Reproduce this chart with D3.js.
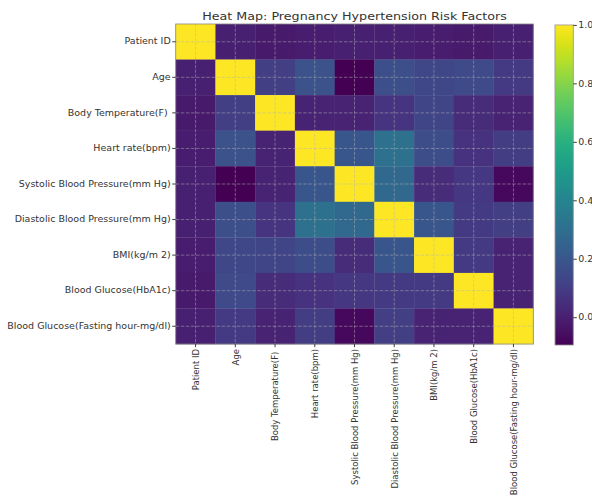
<!DOCTYPE html>
<html>
<head>
<meta charset="utf-8">
<script src="https://cdn.jsdelivr.net/npm/d3@7"></script>
<style>
  html, body { margin: 0; padding: 0; background: #fff; }
  svg { display: block; }
  text { font-family: "DejaVu Sans", sans-serif; fill: #333; white-space: pre; }
</style>
</head>
<body>
<svg id="chart"></svg>
<script>
// Correlation matrix of pregnancy hypertension risk factors
const features = [
  "Patient ID",
  "Age",
  "Body Temperature(F) ",
  "Heart rate(bpm)",
  "Systolic Blood Pressure(mm Hg)",
  "Diastolic Blood Pressure(mm Hg)",
  "BMI(kg/m 2)",
  "Blood Glucose(HbA1c)",
  "Blood Glucose(Fasting hour-mg/dl)"
];

const rowPatientId   = [ 1.00,  0.00, -0.02, -0.01,  0.00,  0.00, -0.01, -0.02,  0.00];
const rowAge         = [ 0.00,  1.00,  0.11,  0.18, -0.095, 0.17,  0.14,  0.15,  0.09];
const rowBodyTemp    = [-0.02,  0.11,  1.00,  0.01,  0.01,  0.07,  0.13,  0.04,  0.01];
const rowHeartRate   = [-0.01,  0.18,  0.01,  1.00,  0.20,  0.31,  0.16,  0.06,  0.10];
const rowSystolic    = [ 0.00, -0.095, 0.01,  0.20,  1.00,  0.27,  0.04,  0.08, -0.07];
const rowDiastolic   = [ 0.00,  0.17,  0.07,  0.31,  0.27,  1.00,  0.20,  0.09,  0.11];
const rowBMI         = [-0.01,  0.14,  0.13,  0.16,  0.04,  0.20,  1.00,  0.09,  0.01];
const rowHbA1c       = [-0.02,  0.15,  0.04,  0.06,  0.08,  0.09,  0.09,  1.00,  0.01];
const rowFasting     = [ 0.00,  0.09,  0.01,  0.10, -0.07,  0.11,  0.01,  0.01,  1.00];

const matrix = [rowPatientId, rowAge, rowBodyTemp, rowHeartRate, rowSystolic,
                rowDiastolic, rowBMI, rowHbA1c, rowFasting];

const colorbarTicks = [0.0, 0.2, 0.4, 0.6, 0.8, 1.0];

const titleText = "Heat Map: Pregnancy Hypertension Risk Factors";

// The figure is laid out with square cells and then squeezed vertically.
const W = 592, H = 501, squeeze = 0.895;
const VH = H / squeeze;

const svg = d3.select("#chart")
  .attr("width", W).attr("height", H)
  .attr("viewBox", `0 0 ${W} ${VH}`)
  .attr("preserveAspectRatio", "none");

const plotLeft = 175.7, plotRight = 533.3, plotTop = 26.8;
const plotSize = plotRight - plotLeft;
const plotBottom = plotTop + plotSize;

const x = d3.scaleBand().domain(d3.range(features.length)).range([plotLeft, plotRight]);
const y = d3.scaleBand().domain(d3.range(features.length)).range([plotTop, plotBottom]);

const vmin = d3.min(matrix.flat()), vmax = d3.max(matrix.flat());
const color = d3.scaleSequential(d3.interpolateViridis).domain([vmin, vmax]);

const cells = [];
matrix.forEach((row, i) => row.forEach((v, j) => cells.push({ i, j, v })));

svg.append("g").selectAll("rect")
  .data(cells)
  .join("rect")
  .attr("x", d => x(d.j))
  .attr("y", d => y(d.i))
  .attr("width", x.bandwidth() + 0.3)
  .attr("height", y.bandwidth() + 0.3)
  .attr("fill", d => color(d.v));

// dashed grid at tick positions
const centers = d3.range(features.length);
const grid = svg.append("g")
  .attr("stroke", "#b4b4b4").attr("stroke-opacity", 0.65)
  .attr("stroke-width", 0.8).attr("stroke-dasharray", "3.5,1.6");
grid.selectAll(".gv").data(centers).join("line").attr("class", "gv")
  .attr("x1", d => x(d) + x.bandwidth() / 2).attr("x2", d => x(d) + x.bandwidth() / 2)
  .attr("y1", plotTop).attr("y2", plotBottom);
grid.selectAll(".gh").data(centers).join("line").attr("class", "gh")
  .attr("y1", d => y(d) + y.bandwidth() / 2).attr("y2", d => y(d) + y.bandwidth() / 2)
  .attr("x1", plotLeft).attr("x2", plotRight);

// frame
svg.append("rect")
  .attr("x", plotLeft).attr("y", plotTop).attr("width", plotSize).attr("height", plotSize)
  .attr("fill", "none").attr("stroke", "#8a8a8a").attr("stroke-width", 0.9);

// axes
const fontSize = 9.5;
const xAxis = d3.axisBottom(x).tickSize(3.5).tickPadding(2).tickFormat(i => features[i]);
const gx = svg.append("g").attr("transform", `translate(0,${plotBottom})`).call(xAxis);
gx.select(".domain").remove();
gx.selectAll(".tick line").attr("stroke", "#333");
gx.selectAll(".tick text")
  .attr("font-size", fontSize)
  .attr("font-family", "DejaVu Sans")
  .attr("fill", "#333")
  .attr("text-anchor", "end")
  .attr("transform", "rotate(-90)")
  .attr("x", -5.5).attr("y", 0).attr("dy", "0.35em");

const yAxis = d3.axisLeft(y).tickSize(3.5).tickPadding(1.5).tickFormat(i => features[i]);
const gy = svg.append("g").attr("transform", `translate(${plotLeft},0)`).call(yAxis);
gy.select(".domain").remove();
gy.selectAll(".tick line").attr("stroke", "#333");
gy.selectAll(".tick text")
  .attr("font-size", fontSize)
  .attr("font-family", "DejaVu Sans")
  .attr("fill", "#333");

// title
svg.append("text")
  .attr("x", (plotLeft + plotRight) / 2).attr("y", 22.3)
  .attr("text-anchor", "middle")
  .attr("font-size", 12.7)
  .text(titleText);

// colorbar
const cbLeft = 555, cbWidth = 18.3, cbTop = 27.9, cbBottom = 385.5;
const cbScale = d3.scaleLinear().domain([vmin, vmax]).range([cbBottom, cbTop]);

const defs = svg.append("defs");
const grad = defs.append("linearGradient").attr("id", "cbgrad")
  .attr("x1", 0).attr("x2", 0).attr("y1", 1).attr("y2", 0);
d3.range(0, 1.0001, 0.02).forEach(t => {
  grad.append("stop").attr("offset", t).attr("stop-color", d3.interpolateViridis(t));
});
svg.append("rect")
  .attr("x", cbLeft).attr("y", cbTop).attr("width", cbWidth).attr("height", cbBottom - cbTop)
  .attr("fill", "url(#cbgrad)")
  .attr("stroke", "#999").attr("stroke-width", 0.9);

const cbAxis = d3.axisRight(cbScale).tickValues(colorbarTicks).tickSize(3.5).tickPadding(1.5)
  .tickFormat(d3.format(".1f"));
const gcb = svg.append("g").attr("transform", `translate(${cbLeft + cbWidth},0)`).call(cbAxis);
gcb.select(".domain").remove();
gcb.selectAll(".tick line").attr("stroke", "#333");
gcb.selectAll(".tick text")
  .attr("font-size", fontSize)
  .attr("font-family", "DejaVu Sans")
  .attr("fill", "#333");
</script>
</body>
</html>
